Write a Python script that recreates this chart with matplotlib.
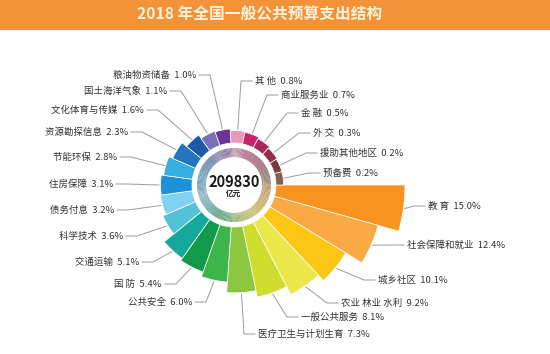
import numpy as np
import matplotlib
matplotlib.use("Agg")
import matplotlib.pyplot as plt
from matplotlib.colors import to_rgb
from matplotlib.lines import Line2D
from matplotlib.patches import Rectangle

plt.rcParams["font.family"] = ["Noto Sans CJK SC", "DejaVu Sans"]

TITLE = "2018 年全国一般公共预算支出结构"
TOTAL = 209830
UNIT = "亿元"

# clockwise, starting at 3 o'clock
categories = ["教 育", "社会保障和就业", "城乡社区", "农业 林业 水利", "一般公共服务",
              "医疗卫生与计划生育", "公共安全", "国 防", "交通运输", "科学技术",
              "债务付息", "住房保障", "节能环保", "资源勘探信息", "文化体育与传媒",
              "国土海洋气象", "粮油物资储备", "其 他", "商业服务业", "金 融",
              "外 交", "援助其他地区", "预备费"]
shares = [15.0, 12.4, 10.1, 9.2, 8.1, 7.3, 6.0, 5.4, 5.1, 3.6, 3.2, 3.1,
          2.8, 2.3, 1.6, 1.1, 1.0, 0.8, 0.7, 0.5, 0.3, 0.2, 0.2]

colors = ["#f7931e", "#f9a945", "#fdc514", "#ebe64c", "#cfdd2f", "#8dc63f",
          "#3db54a", "#12994b", "#13a899", "#52c2d4", "#80d2f0", "#1e92d6",
          "#35aee2", "#2374bf", "#1f5aa8", "#7670b6", "#6a3596", "#e699ba",
          "#c8246a", "#a8285c", "#8e2f4c", "#7c3a40", "#8a6048"]

# label anchor points, image pixels from top-left (left edge / right edge of text)
label_xy = [(428, 206), (407, 245), (378, 280), (341, 303), (301, 317), (258, 334),
            (192, 302), (162, 284), (139, 262), (123, 236), (114, 210), (113, 184),
            (117, 157), (128, 132), (144, 110), (167, 91), (196, 75),
            (255, 81), (281, 95), (301, 113), (313, 133), (320, 153), (323, 173)]
left_side = range(6, 17)

W, H = 550, 354
CX, CY = 234, 185          # wheel centre in image pixels
PX = 8.2                   # pixels per percentage point
RMAX = 21.5
BAR_BASE = 42 / PX
BAR_PAD = 0.73
RING_IN, RING_OUT = 28 / PX, 37 / PX

fig = plt.figure(figsize=(W / 100, H / 100), dpi=100)
side = 2 * RMAX * PX
ax = fig.add_axes([(CX - side / 2) / W, (H - CY - side / 2) / H, side / W, side / H],
                  projection="polar")
ax.set_theta_zero_location("E")
ax.set_theta_direction(-1)
ax.set_ylim(0, RMAX)
ax.axis("off")

n = len(shares)
step = 2 * np.pi / n
theta = (np.arange(n) + 0.5) * step
heights = np.array(shares) + BAR_PAD
ax.bar(theta, heights, width=step, bottom=BAR_BASE, color=colors,
       edgecolor="white", linewidth=0.5, zorder=3)

# muted gradient ring around the total
sub = 8
grey = np.array(to_rgb("#a9a9a9"))
ring_t, ring_c = [], []
for i in range(n):
    c0 = np.array(to_rgb(colors[i]))
    c1 = np.array(to_rgb(colors[(i + 1) % n]))
    for k in range(sub):
        f = k / sub
        c = (1 - f) * c0 + f * c1
        ring_t.append((i + 0.5 + f) * step)
        ring_c.append(0.42 * c + 0.58 * grey)
ax.bar(ring_t, RING_OUT - RING_IN, width=step / sub * 1.05, bottom=RING_IN,
       color=ring_c, linewidth=0, zorder=2)

ax.text(0.5, 0.5 + 3 / side, f"{TOTAL}", transform=ax.transAxes, ha="center",
        va="center", fontsize=10.5, fontweight="bold", color="#1a1a1a")
ax.text(0.5, 0.5 - 8 / side, UNIT, transform=ax.transAxes, ha="center",
        va="center", fontsize=5.5, fontweight="bold", color="#1a1a1a")

# labels with leader lines
to_fig = fig.transFigure.inverted()
for i, (name, v) in enumerate(zip(categories, shares)):
    lx, ly = label_xy[i]
    left = i in left_side
    fig.text(lx / W, 1 - ly / H, f"{name}  {v:.1f}%", ha="right" if left else "left",
             va="center", fontsize=6.8, color="#333333")
    tip = ax.transData.transform((theta[i], BAR_BASE + heights[i] + 1.5 / PX))
    tx, ty = to_fig.transform(tip)
    sgn = 1 if left else -1
    ex, end = (lx + sgn * 14) / W, (lx + sgn * 3) / W
    ey = 1 - ly / H
    fig.add_artist(Line2D([tx, ex, end], [ty, ey, ey], transform=fig.transFigure,
                          color="#9a9a9a", lw=0.7))

# title banner
fig.add_artist(Rectangle((0, 1 - 30 / H), 1, 30 / H, transform=fig.transFigure,
                         facecolor="#f39238", edgecolor="none", zorder=5))
fig.text(260 / W, 1 - 15 / H, TITLE, ha="center", va="center", fontsize=11.3,
         fontweight="bold", color="#fdf3dc", zorder=6)

fig.savefig("out.png", dpi=100)
